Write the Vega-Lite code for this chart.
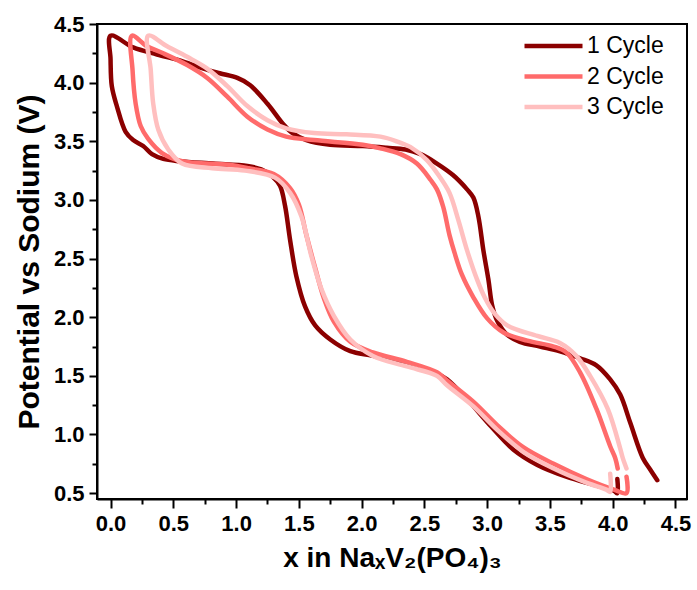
{
  "$schema": "https://vega.github.io/schema/vega-lite/v6.json",
  "width": 590,
  "height": 475,
  "autosize": {"type": "none"},
  "padding": {"left": 97, "top": 24, "right": 10, "bottom": 91},
  "background": "white",
  "config": {
    "view": {"stroke": "black", "strokeWidth": 2},
    "font": "Liberation Sans",
    "axis": {
      "grid": false,
      "domainColor": "black",
      "domainWidth": 2,
      "tickColor": "black",
      "tickWidth": 2,
      "labelFont": "Liberation Sans",
      "labelFontWeight": "bold",
      "labelFontSize": 22,
      "labelColor": "black",
      "labelOverlap": false,
      "labelFlush": false,
      "labelPadding": 5,
      "titleFont": "Liberation Sans",
      "titleFontWeight": "bold",
      "titleFontSize": 28,
      "titleColor": "black"
    }
  },
  "data": {"values": [
    {"c":"1 Cycle","i":0,"x":4.355,"v":0.61},
    {"c":"1 Cycle","i":1,"x":4.30,"v":0.70},
    {"c":"1 Cycle","i":2,"x":4.24,"v":0.80},
    {"c":"1 Cycle","i":3,"x":4.14,"v":1.10},
    {"c":"1 Cycle","i":4,"x":4.06,"v":1.34},
    {"c":"1 Cycle","i":5,"x":3.98,"v":1.47},
    {"c":"1 Cycle","i":6,"x":3.87,"v":1.59},
    {"c":"1 Cycle","i":7,"x":3.74,"v":1.65},
    {"c":"1 Cycle","i":8,"x":3.58,"v":1.71},
    {"c":"1 Cycle","i":9,"x":3.42,"v":1.75},
    {"c":"1 Cycle","i":10,"x":3.26,"v":1.79},
    {"c":"1 Cycle","i":11,"x":3.16,"v":1.85},
    {"c":"1 Cycle","i":12,"x":3.08,"v":1.97},
    {"c":"1 Cycle","i":13,"x":3.04,"v":2.10},
    {"c":"1 Cycle","i":14,"x":3.01,"v":2.32},
    {"c":"1 Cycle","i":15,"x":2.97,"v":2.57},
    {"c":"1 Cycle","i":16,"x":2.93,"v":2.86},
    {"c":"1 Cycle","i":17,"x":2.89,"v":3.02},
    {"c":"1 Cycle","i":18,"x":2.84,"v":3.09},
    {"c":"1 Cycle","i":19,"x":2.73,"v":3.21},
    {"c":"1 Cycle","i":20,"x":2.60,"v":3.31},
    {"c":"1 Cycle","i":21,"x":2.47,"v":3.39},
    {"c":"1 Cycle","i":22,"x":2.35,"v":3.43},
    {"c":"1 Cycle","i":23,"x":2.20,"v":3.445},
    {"c":"1 Cycle","i":24,"x":2.01,"v":3.46},
    {"c":"1 Cycle","i":25,"x":1.75,"v":3.47},
    {"c":"1 Cycle","i":26,"x":1.56,"v":3.51},
    {"c":"1 Cycle","i":27,"x":1.45,"v":3.57},
    {"c":"1 Cycle","i":28,"x":1.38,"v":3.64},
    {"c":"1 Cycle","i":29,"x":1.25,"v":3.82},
    {"c":"1 Cycle","i":30,"x":1.11,"v":3.98},
    {"c":"1 Cycle","i":31,"x":1.01,"v":4.04},
    {"c":"1 Cycle","i":32,"x":0.87,"v":4.08},
    {"c":"1 Cycle","i":33,"x":0.74,"v":4.12},
    {"c":"1 Cycle","i":34,"x":0.58,"v":4.18},
    {"c":"1 Cycle","i":35,"x":0.37,"v":4.24},
    {"c":"1 Cycle","i":36,"x":0.18,"v":4.30},
    {"c":"1 Cycle","i":37,"x":0.0,"v":4.40},
    {"c":"1 Cycle","i":38,"x":0.0,"v":4.20},
    {"c":"1 Cycle","i":39,"x":0.01,"v":3.97},
    {"c":"1 Cycle","i":40,"x":0.05,"v":3.80},
    {"c":"1 Cycle","i":41,"x":0.12,"v":3.58},
    {"c":"1 Cycle","i":42,"x":0.18,"v":3.51},
    {"c":"1 Cycle","i":43,"x":0.26,"v":3.46},
    {"c":"1 Cycle","i":44,"x":0.33,"v":3.39},
    {"c":"1 Cycle","i":45,"x":0.42,"v":3.35},
    {"c":"1 Cycle","i":46,"x":0.55,"v":3.33},
    {"c":"1 Cycle","i":47,"x":0.82,"v":3.31},
    {"c":"1 Cycle","i":48,"x":1.09,"v":3.29},
    {"c":"1 Cycle","i":49,"x":1.20,"v":3.26},
    {"c":"1 Cycle","i":50,"x":1.29,"v":3.20},
    {"c":"1 Cycle","i":51,"x":1.35,"v":3.12},
    {"c":"1 Cycle","i":52,"x":1.39,"v":2.95},
    {"c":"1 Cycle","i":53,"x":1.43,"v":2.66},
    {"c":"1 Cycle","i":54,"x":1.48,"v":2.35},
    {"c":"1 Cycle","i":55,"x":1.55,"v":2.09},
    {"c":"1 Cycle","i":56,"x":1.63,"v":1.93},
    {"c":"1 Cycle","i":57,"x":1.75,"v":1.81},
    {"c":"1 Cycle","i":58,"x":1.91,"v":1.71},
    {"c":"1 Cycle","i":59,"x":2.09,"v":1.67},
    {"c":"1 Cycle","i":60,"x":2.36,"v":1.60},
    {"c":"1 Cycle","i":61,"x":2.60,"v":1.52},
    {"c":"1 Cycle","i":62,"x":2.68,"v":1.47},
    {"c":"1 Cycle","i":63,"x":2.84,"v":1.30},
    {"c":"1 Cycle","i":64,"x":3.03,"v":1.07},
    {"c":"1 Cycle","i":65,"x":3.21,"v":0.87},
    {"c":"1 Cycle","i":66,"x":3.40,"v":0.74},
    {"c":"1 Cycle","i":67,"x":3.63,"v":0.64},
    {"c":"1 Cycle","i":68,"x":3.85,"v":0.57},
    {"c":"1 Cycle","i":69,"x":4.01,"v":0.52},
    {"c":"1 Cycle","i":70,"x":4.037,"v":0.50},
    {"c":"1 Cycle","i":71,"x":4.037,"v":0.62},

    {"c":"2 Cycle","i":0,"x":4.04,"v":0.71},
    {"c":"2 Cycle","i":1,"x":4.02,"v":0.80},
    {"c":"2 Cycle","i":2,"x":3.98,"v":0.90},
    {"c":"2 Cycle","i":3,"x":3.87,"v":1.22},
    {"c":"2 Cycle","i":4,"x":3.74,"v":1.53},
    {"c":"2 Cycle","i":5,"x":3.63,"v":1.70},
    {"c":"2 Cycle","i":6,"x":3.53,"v":1.75},
    {"c":"2 Cycle","i":7,"x":3.32,"v":1.80},
    {"c":"2 Cycle","i":8,"x":3.13,"v":1.87},
    {"c":"2 Cycle","i":9,"x":3.00,"v":1.99},
    {"c":"2 Cycle","i":10,"x":2.89,"v":2.17},
    {"c":"2 Cycle","i":11,"x":2.80,"v":2.36},
    {"c":"2 Cycle","i":12,"x":2.74,"v":2.55},
    {"c":"2 Cycle","i":13,"x":2.70,"v":2.70},
    {"c":"2 Cycle","i":14,"x":2.65,"v":2.94},
    {"c":"2 Cycle","i":15,"x":2.60,"v":3.09},
    {"c":"2 Cycle","i":16,"x":2.55,"v":3.17},
    {"c":"2 Cycle","i":17,"x":2.44,"v":3.31},
    {"c":"2 Cycle","i":18,"x":2.31,"v":3.39},
    {"c":"2 Cycle","i":19,"x":2.15,"v":3.44},
    {"c":"2 Cycle","i":20,"x":2.01,"v":3.47},
    {"c":"2 Cycle","i":21,"x":1.62,"v":3.51},
    {"c":"2 Cycle","i":22,"x":1.40,"v":3.54},
    {"c":"2 Cycle","i":23,"x":1.25,"v":3.60},
    {"c":"2 Cycle","i":24,"x":1.09,"v":3.71},
    {"c":"2 Cycle","i":25,"x":0.93,"v":3.88},
    {"c":"2 Cycle","i":26,"x":0.77,"v":4.04},
    {"c":"2 Cycle","i":27,"x":0.61,"v":4.15},
    {"c":"2 Cycle","i":28,"x":0.42,"v":4.25},
    {"c":"2 Cycle","i":29,"x":0.29,"v":4.31},
    {"c":"2 Cycle","i":30,"x":0.17,"v":4.40},
    {"c":"2 Cycle","i":31,"x":0.175,"v":4.11},
    {"c":"2 Cycle","i":32,"x":0.20,"v":3.82},
    {"c":"2 Cycle","i":33,"x":0.24,"v":3.63},
    {"c":"2 Cycle","i":34,"x":0.30,"v":3.52},
    {"c":"2 Cycle","i":35,"x":0.41,"v":3.40},
    {"c":"2 Cycle","i":36,"x":0.57,"v":3.33},
    {"c":"2 Cycle","i":37,"x":0.94,"v":3.30},
    {"c":"2 Cycle","i":38,"x":1.10,"v":3.27},
    {"c":"2 Cycle","i":39,"x":1.30,"v":3.22},
    {"c":"2 Cycle","i":40,"x":1.43,"v":3.10},
    {"c":"2 Cycle","i":41,"x":1.50,"v":2.96},
    {"c":"2 Cycle","i":42,"x":1.56,"v":2.70},
    {"c":"2 Cycle","i":43,"x":1.63,"v":2.42},
    {"c":"2 Cycle","i":44,"x":1.70,"v":2.16},
    {"c":"2 Cycle","i":45,"x":1.78,"v":1.96},
    {"c":"2 Cycle","i":46,"x":1.91,"v":1.79},
    {"c":"2 Cycle","i":47,"x":2.09,"v":1.70},
    {"c":"2 Cycle","i":48,"x":2.36,"v":1.62},
    {"c":"2 Cycle","i":49,"x":2.60,"v":1.53},
    {"c":"2 Cycle","i":50,"x":2.68,"v":1.46},
    {"c":"2 Cycle","i":51,"x":2.89,"v":1.28},
    {"c":"2 Cycle","i":52,"x":3.08,"v":1.08},
    {"c":"2 Cycle","i":53,"x":3.29,"v":0.89},
    {"c":"2 Cycle","i":54,"x":3.53,"v":0.75},
    {"c":"2 Cycle","i":55,"x":3.79,"v":0.62},
    {"c":"2 Cycle","i":56,"x":4.01,"v":0.53},
    {"c":"2 Cycle","i":57,"x":4.11,"v":0.50},
    {"c":"2 Cycle","i":58,"x":4.11,"v":0.64},

    {"c":"3 Cycle","i":0,"x":4.11,"v":0.71},
    {"c":"3 Cycle","i":1,"x":4.08,"v":0.80},
    {"c":"3 Cycle","i":2,"x":4.06,"v":0.88},
    {"c":"3 Cycle","i":3,"x":3.96,"v":1.22},
    {"c":"3 Cycle","i":4,"x":3.82,"v":1.50},
    {"c":"3 Cycle","i":5,"x":3.71,"v":1.67},
    {"c":"3 Cycle","i":6,"x":3.58,"v":1.78},
    {"c":"3 Cycle","i":7,"x":3.40,"v":1.84},
    {"c":"3 Cycle","i":8,"x":3.16,"v":1.93},
    {"c":"3 Cycle","i":9,"x":3.06,"v":2.03},
    {"c":"3 Cycle","i":10,"x":2.98,"v":2.17},
    {"c":"3 Cycle","i":11,"x":2.92,"v":2.32},
    {"c":"3 Cycle","i":12,"x":2.84,"v":2.57},
    {"c":"3 Cycle","i":13,"x":2.77,"v":2.83},
    {"c":"3 Cycle","i":14,"x":2.70,"v":3.06},
    {"c":"3 Cycle","i":15,"x":2.62,"v":3.20},
    {"c":"3 Cycle","i":16,"x":2.52,"v":3.34},
    {"c":"3 Cycle","i":17,"x":2.39,"v":3.45},
    {"c":"3 Cycle","i":18,"x":2.28,"v":3.50},
    {"c":"3 Cycle","i":19,"x":2.15,"v":3.54},
    {"c":"3 Cycle","i":20,"x":1.88,"v":3.56},
    {"c":"3 Cycle","i":21,"x":1.62,"v":3.57},
    {"c":"3 Cycle","i":22,"x":1.40,"v":3.61},
    {"c":"3 Cycle","i":23,"x":1.25,"v":3.68},
    {"c":"3 Cycle","i":24,"x":1.09,"v":3.80},
    {"c":"3 Cycle","i":25,"x":0.93,"v":3.97},
    {"c":"3 Cycle","i":26,"x":0.77,"v":4.12},
    {"c":"3 Cycle","i":27,"x":0.61,"v":4.22},
    {"c":"3 Cycle","i":28,"x":0.45,"v":4.31},
    {"c":"3 Cycle","i":29,"x":0.30,"v":4.40},
    {"c":"3 Cycle","i":30,"x":0.32,"v":4.11},
    {"c":"3 Cycle","i":31,"x":0.34,"v":3.82},
    {"c":"3 Cycle","i":32,"x":0.38,"v":3.60},
    {"c":"3 Cycle","i":33,"x":0.46,"v":3.43},
    {"c":"3 Cycle","i":34,"x":0.57,"v":3.31},
    {"c":"3 Cycle","i":35,"x":0.81,"v":3.27},
    {"c":"3 Cycle","i":36,"x":1.07,"v":3.25},
    {"c":"3 Cycle","i":37,"x":1.31,"v":3.19},
    {"c":"3 Cycle","i":38,"x":1.43,"v":3.06},
    {"c":"3 Cycle","i":39,"x":1.52,"v":2.86},
    {"c":"3 Cycle","i":40,"x":1.60,"v":2.52},
    {"c":"3 Cycle","i":41,"x":1.68,"v":2.24},
    {"c":"3 Cycle","i":42,"x":1.78,"v":2.01},
    {"c":"3 Cycle","i":43,"x":1.91,"v":1.81},
    {"c":"3 Cycle","i":44,"x":2.09,"v":1.67},
    {"c":"3 Cycle","i":45,"x":2.36,"v":1.58},
    {"c":"3 Cycle","i":46,"x":2.60,"v":1.50},
    {"c":"3 Cycle","i":47,"x":2.68,"v":1.42},
    {"c":"3 Cycle","i":48,"x":2.89,"v":1.24},
    {"c":"3 Cycle","i":49,"x":3.08,"v":1.04},
    {"c":"3 Cycle","i":50,"x":3.29,"v":0.85},
    {"c":"3 Cycle","i":51,"x":3.53,"v":0.71},
    {"c":"3 Cycle","i":52,"x":3.79,"v":0.59},
    {"c":"3 Cycle","i":53,"x":3.95,"v":0.53},
    {"c":"3 Cycle","i":54,"x":3.98,"v":0.51},
    {"c":"3 Cycle","i":55,"x":3.98,"v":0.665}
  ]},
  "mark": {"type": "line", "strokeWidth": 4.5, "strokeCap": "round", "strokeJoin": "round", "interpolate": "catmull-rom", "clip": true},
  "encoding": {
    "x": {
      "field": "x", "type": "quantitative",
      "scale": {"domain": [-0.108, 4.592], "nice": false, "zero": false},
      "title": "x in NaₓV₂(PO₄)₃",
      "axis": {
        "values": [0,0.25,0.5,0.75,1,1.25,1.5,1.75,2,2.25,2.5,2.75,3,3.25,3.5,3.75,4,4.25,4.5],
        "labelExpr": "datum.value % 0.5 === 0 ? format(datum.value, '.1f') : ''",
        "tickSize": {"condition": {"test": "datum.value % 0.5 === 0", "value": 9}, "value": 5},
        "titlePadding": 10
      }
    },
    "y": {
      "field": "v", "type": "quantitative",
      "scale": {"domain": [0.45, 4.5], "nice": false, "zero": false},
      "title": "Potential vs Sodium (V)",
      "axis": {
        "values": [0.5,0.75,1,1.25,1.5,1.75,2,2.25,2.5,2.75,3,3.25,3.5,3.75,4,4.25,4.5],
        "labelExpr": "datum.value % 0.5 === 0 ? format(datum.value, '.1f') : ''",
        "tickSize": {"condition": {"test": "datum.value % 0.5 === 0", "value": 8}, "value": 5},
        "titleFontSize": 30,
        "titlePadding": 9
      }
    },
    "color": {
      "field": "c", "type": "nominal",
      "scale": {"domain": ["1 Cycle", "2 Cycle", "3 Cycle"], "range": ["#8B0000", "#FF6B6B", "#FFBFBF"]},
      "legend": {
        "title": null,
        "orient": "none",
        "legendX": 425,
        "legendY": 5,
        "symbolType": "M-1,0H3",
        "symbolSize": 841,
        "symbolStrokeWidth": 4.5,
        "labelFont": "Liberation Sans",
        "labelFontSize": 23,
        "labelColor": "black",
        "labelOffset": 31,
        "rowPadding": 1.5
      }
    },
    "order": {"field": "i", "type": "quantitative"}
  }
}
